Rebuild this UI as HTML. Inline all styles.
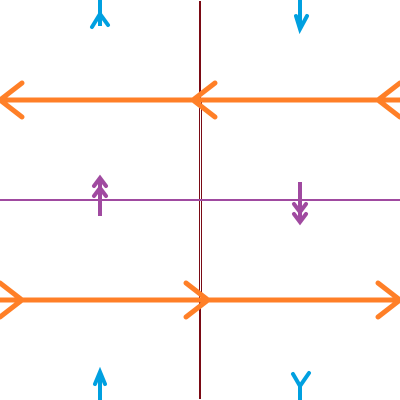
<!DOCTYPE html>
<html><head><meta charset="utf-8"><style>html,body{margin:0;padding:0;background:#fff}svg{display:block}</style></head>
<body>
<svg width="400" height="400" viewBox="0 0 400 400">
<g id="g"></g>
</svg>
<script>
const hLinesY = [100, 300];
const hDirs = [-1, 1];
const headXs = [[0, 193, 378], [22, 208, 400]];
const purpleY = [200];
const smallArrowX = [100, 300];
const smallArrowDir = [-1, 1];
const blueX = [100, 300];
const ns = 'http://www.w3.org/2000/svg';
const g = document.getElementById('g');
function mk(tag, attrs, name) {
  const e = document.createElementNS(ns, tag);
  for (const k in attrs) e.setAttribute(k, attrs[k]);
  
  
  g.appendChild(e);
  return e;
}
// vertical axis
mk('line', {x1:200, y1:1, x2:200, y2:399, stroke:'#7a0a14', 'stroke-width':2}, 'vertical-line');
mk('line', {x1:199.5, y1:100, x2:199.5, y2:300, stroke:'#7a0a14', 'stroke-width':1}, 'vertical-line-left');
mk('line', {x1:201.5, y1:100, x2:201.5, y2:300, stroke:'#7a0a14', 'stroke-width':1}, 'vertical-line-right');
mk('rect', {x:200, y:102, width:1, height:196, fill:'#fff'}, 'vertical-gap');
// purple line
purpleY.forEach(y => mk('line', {x1:0, y1:y, x2:400, y2:y, stroke:'#a04aa0', 'stroke-width':2}, 'purple-line'));
// orange lines with heads
hLinesY.forEach((y, i) => {
  mk('line', {x1:0, y1:y, x2:400, y2:y, stroke:'#ff7f27', 'stroke-width':5}, 'orange-line');
  const d = hDirs[i];
  headXs[i].forEach(x => {
    mk('path', {d:`M${x - d*22} ${y-17} L${x} ${y} L${x - d*22} ${y+17}`, fill:'none', stroke:'#ff7f27', 'stroke-width':5, 'stroke-linecap':'round', 'stroke-linejoin':'round'}, 'orange-arrowhead');
  });
});
// purple small arrows
smallArrowX.forEach((x, i) => {
  const d = smallArrowDir[i];
  const y0 = d < 0 ? 216 : 182, y1 = d < 0 ? 178 : 222;
  mk('line', {x1:x, y1:y0, x2:x, y2:y1, stroke:'#a04aa0', 'stroke-width':4}, 'purple-arrow-shaft');
  [0, 10].forEach(o => {
    const ty = y1 - d*o*(-1) + (d<0?o:-o)*0;
    const tip = d < 0 ? y1 + o : y1 - o;
    mk('path', {d:`M${x-6} ${tip - d*8} L${x} ${tip} L${x+6} ${tip - d*8}`, fill:'none', stroke:'#a04aa0', 'stroke-width':4, 'stroke-linecap':'round'}, 'purple-arrowhead');
  });
});
// blue arrows
mk('line', {x1:100, y1:0, x2:100, y2:26, stroke:'#00a0e0', 'stroke-width':4}, 'blue-arrow-top-left');
mk('path', {d:'M92 27 L100 14 L108 25', fill:'none', stroke:'#00a0e0', 'stroke-width':4, 'stroke-linecap':'round'}, 'blue-arrow-tail-top-left');
mk('line', {x1:300, y1:0, x2:300, y2:28, stroke:'#00a0e0', 'stroke-width':4}, 'blue-arrow-top-right');
mk('path', {d:'M296 16 L300 29 L307 16', fill:'none', stroke:'#00a0e0', 'stroke-width':4, 'stroke-linecap':'round'}, 'blue-arrowhead-top-right');
mk('line', {x1:100, y1:372, x2:100, y2:400, stroke:'#00a0e0', 'stroke-width':4}, 'blue-arrow-bottom-left');
mk('path', {d:'M95 384 L100 372 L105 384', fill:'none', stroke:'#00a0e0', 'stroke-width':4, 'stroke-linecap':'round'}, 'blue-arrowhead-bottom-left');
mk('line', {x1:300, y1:385, x2:300, y2:400, stroke:'#00a0e0', 'stroke-width':4}, 'blue-arrow-bottom-right');
mk('path', {d:'M293 374 L300 386 L309 373', fill:'none', stroke:'#00a0e0', 'stroke-width':4, 'stroke-linecap':'round'}, 'blue-arrow-tail-bottom-right');
</script>
</body></html>
